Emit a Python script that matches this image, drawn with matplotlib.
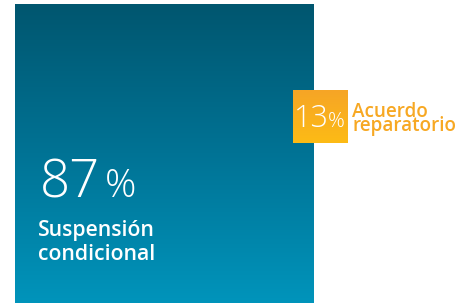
import numpy as np
import matplotlib
matplotlib.use("Agg")
import matplotlib.pyplot as plt
from matplotlib.colors import LinearSegmentedColormap

categories = ["Suspensión\ncondicional", "Acuerdo\nreparatorio"]
values = [87, 13]

fig = plt.figure(figsize=(4.63, 3.03), dpi=100)
ax = fig.add_axes([0, 0, 1, 1])
ax.set_xlim(0, 463)
ax.set_ylim(303, 0)
ax.axis("off")

grad = np.linspace(0, 1, 256).reshape(-1, 1)
blue = LinearSegmentedColormap.from_list("b", ["#00566f", "#007395", "#0094bb"])
ax.imshow(grad, cmap=blue, extent=[15, 314, 303, 4], aspect="auto", zorder=1)
orange = LinearSegmentedColormap.from_list("o", ["#f6a526", "#fdbb15"])
ax.imshow(grad, cmap=orange, extent=[293, 348, 143, 90], aspect="auto", zorder=2)

numfont = ["Open Sans", "DejaVu Sans"]
lblfont = ["Open Sans", "DejaVu Sans"]


def num(x, y, s, size):
    ax.text(x, y, s, color="white", fontsize=size, fontweight="light",
            family=numfont, va="baseline", ha="left", zorder=3)


def label(x, y, s, size, color, step):
    for i, line in enumerate(s.split("\n")):
        ax.text(x, y + i * step, line, color=color, fontsize=size,
                fontweight="semibold", family=lblfont, va="baseline",
                ha="left", zorder=3)


num(40, 197, f"{values[0]}", 38)
num(104.5, 197, "%", 28)
label(38, 236, categories[0], 15.3, "white", 24)

num(294, 127, f"{values[1]}", 22)
num(327.5, 127, "%", 15)
ax.text(352, 131, categories[1], color="#f7a823", fontsize=13.6,
        fontweight="semibold", family=lblfont, va="baseline", ha="left",
        linespacing=0.62, zorder=3)

fig.savefig("out.png", dpi=100, facecolor="white")
